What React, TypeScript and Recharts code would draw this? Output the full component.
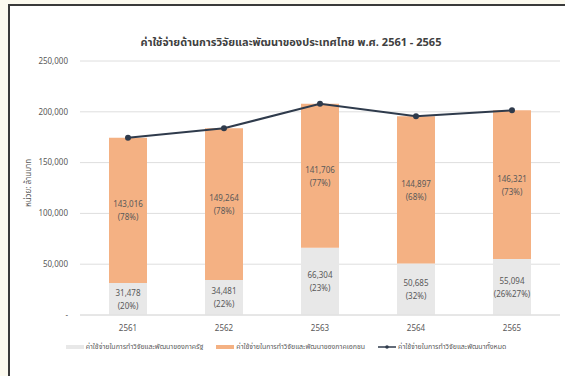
import {
  ComposedChart, Bar, Line, XAxis, YAxis, CartesianGrid, Legend, LabelList,
} from "recharts"

const years = ["2561", "2562", "2563", "2564", "2565"]
const govSpend = [31478, 34481, 66304, 50685, 55094]
const privateSpend = [143016, 149264, 141706, 144897, 146321]
const totalSpend = [174494, 183745, 208010, 195582, 201415]
const govShare = ["(20%)", "(22%)", "(23%)", "(32%)", "(26%27%)"]
const privateShare = ["(78%)", "(78%)", "(77%)", "(68%)", "(73%)"]
const yTicks = [0, 50000, 100000, 150000, 200000, 250000]

const names = {
  gov: "ค่าใช้จ่ายในการทำวิจัยและพัฒนาของภาครัฐ",
  priv: "ค่าใช้จ่ายในการทำวิจัยและพัฒนาของภาคเอกชน",
  total: "ค่าใช้จ่ายในการทำวิจัยและพัฒนาทั้งหมด",
}

const FONT = '"Noto Sans Thai", "Noto Sans", "DejaVu Sans", sans-serif'
const TEXT = "#595959"
const GRAY = "#e8e8e8"
const ORANGE = "#f4b183"
const NAVY = "#2f3b4c"

const data = years.map((y, i) => ({
  year: y,
  gov: govSpend[i],
  priv: privateSpend[i],
  total: totalSpend[i],
}))

const fmt = (v: number) => v.toLocaleString("en-US")

function twoLine(shares: string[]) {
  return (props: any) => {
    const { x, y, width, height, index, value } = props
    const cx = Number(x) + Number(width) / 2
    const cy = Number(y) + Number(height) / 2
    return (
      <text x={cx} y={cy} textAnchor="middle" fontSize={8} fill={TEXT} fontFamily={FONT}>
        <tspan x={cx} dy={-3}>{fmt(Number(value))}</tspan>
        <tspan x={cx} dy={13}>{shares[index]}</tspan>
      </text>
    )
  }
}

function LegendRow() {
  const items = [
    { name: names.gov, color: GRAY, kind: "bar" },
    { name: names.priv, color: ORANGE, kind: "bar" },
    { name: names.total, color: NAVY, kind: "line" },
  ]
  return (
    <div style={{
      display: "flex", justifyContent: "center", alignItems: "center", gap: 13,
      fontSize: 7, color: TEXT, fontFamily: FONT, paddingRight: 8, paddingTop: 2,
    }}>
      {items.map((it) => (
        <div key={it.name} style={{ display: "flex", alignItems: "center" }}>
          <svg width={18} height={8} style={{ marginRight: 2 }}>
            {it.kind === "bar" ? (
              <line x1={0} x2={18} y1={4} y2={4} stroke={it.color} strokeWidth={4} />
            ) : (
              <>
                <line x1={0} x2={18} y1={4} y2={4} stroke={it.color} strokeWidth={1.5} />
                <circle cx={9} cy={4} r={1.8} fill={it.color} />
              </>
            )}
          </svg>
          <span>{it.name}</span>
        </div>
      ))}
    </div>
  )
}

export default function App() {
  return (
    <div style={{ position: "fixed", inset: 0, background: "#fcfaef", fontFamily: FONT }}>
      <div style={{
        position: "absolute", left: 8, top: 4, right: -4, bottom: -4,
        background: "#fff", borderLeft: "2px solid #3a3a3a", borderTop: "2px solid #3a3a3a",
      }} />
      <div style={{
        position: "absolute", left: 0, top: 34, width: 582, textAlign: "center",
        fontSize: 11, fontWeight: 700, color: "#404040",
      }}>
        ค่าใช้จ่ายด้านการวิจัยและพัฒนาของประเทศไทย พ.ศ. 2561 - 2565
      </div>
      <div style={{ position: "absolute", left: 0, top: 0 }}>
        <ComposedChart
          width={565} height={376} data={data}
          margin={{ top: 61, right: 5, bottom: 16, left: 20 }}
        >
          <CartesianGrid stroke="#dedede" vertical={false} />
          <XAxis
            dataKey="year" tickLine={false} axisLine={{ stroke: "#dedede" }}
            tick={{ fontSize: 8, fill: TEXT, fontFamily: FONT }}
            tickSize={0} tickMargin={10} height={25}
          />
          <YAxis
            domain={[0, 250000]} ticks={yTicks} width={60}
            tickLine={false} axisLine={false} tickSize={0} tickMargin={12}
            tick={{ fontSize: 8, fill: TEXT, fontFamily: FONT }}
            tickFormatter={(v) => (v === 0 ? "-" : fmt(v))}
            label={{
              value: "หน่วย: ล้านบาท", angle: -90, position: "insideLeft",
              fontSize: 8, fill: TEXT, fontFamily: FONT, dy: 19, dx: 3,
            }}
          />
          <Legend
            verticalAlign="bottom" wrapperStyle={{ height: 20 }}
            content={() => <LegendRow />}
          />
          <Bar dataKey="gov" name={names.gov} stackId="a" fill={GRAY} barSize={38}
            isAnimationActive={false}>
            <LabelList dataKey="gov" content={twoLine(govShare)} />
          </Bar>
          <Bar dataKey="priv" name={names.priv} stackId="a" fill={ORANGE} barSize={38}
            isAnimationActive={false}>
            <LabelList dataKey="priv" content={twoLine(privateShare)} />
          </Bar>
          <Line dataKey="total" name={names.total} stroke={NAVY} strokeWidth={2}
            dot={{ r: 2, fill: NAVY, stroke: NAVY }}
            isAnimationActive={false} />
        </ComposedChart>
      </div>
    </div>
  )
}
